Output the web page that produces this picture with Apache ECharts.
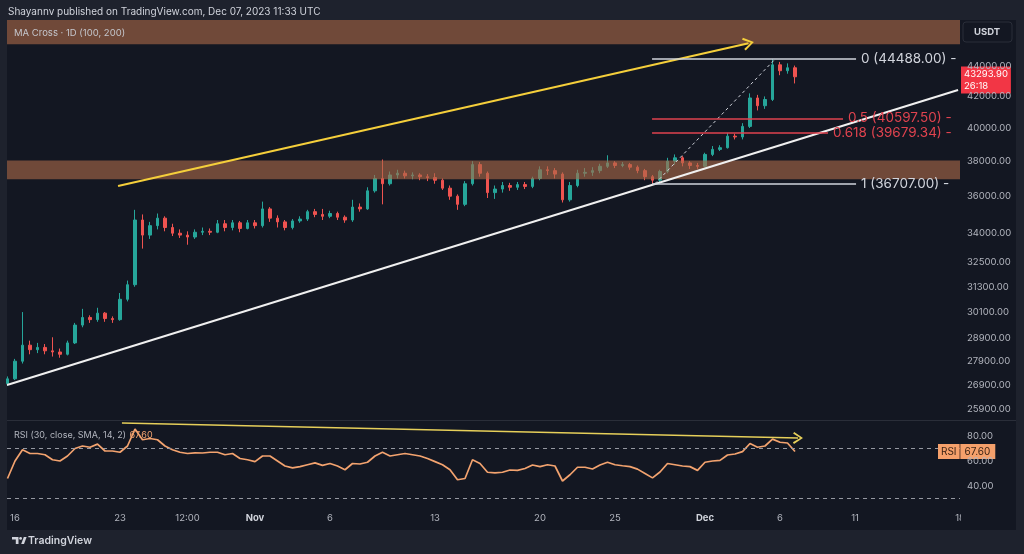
<!DOCTYPE html>
<html><head><meta charset="utf-8">
<script src="https://cdn.jsdelivr.net/npm/echarts@6/dist/echarts.min.js"></script>
<style>html,body{margin:0;padding:0;background:#1e222d;}#c{width:1024px;height:554px;}</style>
</head><body><div id="c"></div>
<script>
// Time is measured in days since 2023-10-16 00:00 UTC; 12h candles from 2023-10-15 12:00
const candleStartDay = -0.5;
const candleStepDays = 0.5;
// [open, close, low, high]
const ohlc = [
[26950,27150,26850,27250],[27150,27900,27100,28000],[27900,28600,27800,30100],[28600,28400,28200,28800],
[28400,28500,28250,28700],[28500,28350,28200,28650],[28350,28300,28100,28950],[28300,28200,28050,28450],
[28200,28700,28150,28800],[28700,29500,28650,29600],[29500,29850,29400,30250],[29850,29750,29600,29950],
[29750,30050,29650,30300],[30050,29800,29650,30100],[29800,29750,29600,29900],[29750,30700,29700,31000],
[30700,31400,30600,31600],[31400,34700,31300,35250],[34700,33900,33200,35000],[33900,34400,33700,34600],
[34400,34800,34200,35050],[34800,34300,34100,34900],[34300,34000,33850,34500],[34000,33900,33750,34200],
[33900,33800,33400,34100],[33800,34050,33700,34200],[34050,34100,33900,34300],[34100,34050,33900,34250],
[34050,34500,34000,34700],[34500,34300,34100,34700],[34300,34550,34150,34700],[34550,34250,34050,34650],
[34250,34550,34200,34700],[34550,34400,34250,34700],[34400,35300,34300,35700],[35300,34800,34600,35400],
[34800,34600,34300,34950],[34600,34300,34150,34700],[34300,34650,34200,34750],[34650,34750,34550,34900],
[34750,35150,34650,35250],[35150,35000,34850,35300],[35000,34900,34700,35300],[34900,35050,34800,35200],
[35050,34850,34700,35150],[34850,34700,34550,34950],[34700,35400,34600,35800],[35400,35300,35150,35600],
[35300,36300,35250,36500],[36300,37000,36200,37200],[37000,36700,35550,38100],[36700,37200,36600,37400],
[37200,37300,37000,37500],[37300,37150,37000,37450],[37150,37200,36950,37350],[37200,37100,36900,37300],
[37100,37050,36850,37250],[37050,36900,36700,37300],[36900,36450,36350,37000],[36450,36000,35800,36600],
[36000,35550,35250,36100],[35550,36700,35450,36850],[36700,37800,36600,38000],[37800,37300,37100,37950],
[37300,36200,35900,37400],[36200,36400,35850,36600],[36400,36600,36200,36800],[36600,36500,36300,36750],
[36500,36650,36350,36800],[36650,36550,36400,36800],[36550,37000,36450,37100],[37000,37500,36900,37700],
[37500,37450,37200,37700],[37450,37250,37000,37600],[37250,35800,35650,37350],[35800,36600,35700,36800],
[36600,37300,36500,37500],[37300,37350,37100,37600],[37350,37450,37150,37650],[37450,37700,37300,37850],
[37700,37900,37600,38350],[37900,37750,37600,38000],[37750,37800,37650,37950],[37800,37650,37500,37900],
[37650,37450,37300,37750],[37450,37100,36900,37550],[37100,36900,36707,37200],[36900,37400,36800,37500],
[37400,38000,37300,38200],[38000,38200,37800,38400],[38200,37900,37700,38300],[37900,37750,37550,38000],
[37750,37700,37550,37900],[37700,38400,37650,38500],[38400,38700,38300,38900],[38700,38800,38600,38950],
[38800,39500,38750,39700],[39500,39450,39300,39650],[39450,40100,39300,40300],[40100,41900,40000,42200],
[41900,41400,41100,42100],[41400,41800,41200,42000],[41800,44100,41700,44488],[44100,43700,43400,44300],
[43700,43900,43500,44200],[43900,43293.9,42850,44050]
];
const rsi = [
46,60,69,66,66,65,61,60,64,70, 72,71,73.5,68,68,67,72,85.6,77,78,
77,72,69,67,66,66.5,66.4,67,67,65, 66,62,61,59.5,64,64,60,56,54.5,55.5,
57,58.5,56.5,58,56,53,58,57.6,59,64, 67,64,65,66,65,64,62,59.5,57,53,
45,46,61,58,51,50.5,51,52.8,52.5,54, 56.8,55.5,57,56,44,49,55,55,53.6,56.8,
59,57,56.2,55.5,53.5,50,46.5,51.2,58,57, 56,55.5,52.5,59,60,60.5,64.8,65.6,67.5,74,
71,72,77.5,75,74.4,67.6
];
const priceTicks = [25900,26900,27900,28900,30100,31300,32500,34000,36000,38000,40000,42000,44000];
const rsiTicks = [40,60,80];
const dateTickDays = [0,7,11.5,16,21,28,35,40,46,51,56,63];
const dateTickLabels = ['16','23','12:00','Nov','6','13','20','25','Dec','6','11','18'];
const fibLabels = ['0 (44488.00) -','0.5 (40597.50) -','0.618 (39679.34) -','1 (36707.00) -'];
const fibPrices = [44488.00,40597.50,39679.34,36707.00];
const fibStartDay = 42.47;
const fibEndDays = [56.07,55.2,54.2,56.07];
const zones = [[45520,47263],[36950,38040]];
const trendLine = [[-0.53,26890],[62.87,42420]];
const yellowArrow = [[6.87,36570],[48.9,45600]];
const fibDiagonal = [[42.67,36707],[50.67,44488]];
const rsiArrow = [[7.13,90.4],[52.2,78.4]];
const rsiLevels = [70,30];
const lastPrice = 43293.90;
const countdown = '26:18';
const lastRsi = 67.60;

const X_MIN = -0.533, X_MAX = 63.0;
const P_MIN = 25477, P_MAX = 47263;
const R_MIN = 22.4, R_MAX = 92;
const L = Math.log;
const FONT = 'Inter, "Noto Sans", sans-serif';
const AX = '#b2b5be';
const BG = '#131722', FRAME = '#1e222d';
const UP = '#26a69a', DOWN = '#ef5350';
const FIBC = ['#d1d4dc','#e0434f','#e0434f','#d1d4dc'];
const CLEAR = 'rgba(0,0,0,0)';
const chevron = 'path://M6,0 L12,10 L10.4,11.2 L6,3.2 L1.6,11.2 L0,10 Z';

const candleData = ohlc.map((r,i)=>[candleStartDay+i*candleStepDays, L(r[0]), L(r[1]), L(r[2]), L(r[3])]);
const rsiData = rsi.map((v,i)=>[candleStartDay+i*candleStepDays, v]);
const pc = a => ({coord:[a[0], L(a[1])]});

const priceMarkLines = [
  [Object.assign(pc(trendLine[0]),{lineStyle:{color:'#f0f0f0',width:2,type:'solid'}}), pc(trendLine[1])],
  [Object.assign(pc(yellowArrow[0]),{lineStyle:{color:'#f5cf3b',width:2,type:'solid'}}),
   Object.assign(pc(yellowArrow[1]),{symbol:chevron,symbolSize:[13,11]})],
  [Object.assign(pc(fibDiagonal[0]),{lineStyle:{color:'#d1d4dc',width:1,type:[3,3]}}), pc(fibDiagonal[1])]
];
fibPrices.forEach((p,k)=>{
  priceMarkLines.push([
    {coord:[fibStartDay, L(p)], lineStyle:{color:FIBC[k],width:1.5,type:'solid'},
     label:{show:true,position:'end',distance:5,formatter:fibLabels[k],color:FIBC[k],fontSize:13.5,fontFamily:FONT}},
    {coord:[fibEndDays[k], L(p)]}
  ]);
});
priceMarkLines.push({yAxis:L(lastPrice), lineStyle:{color:CLEAR,width:1,type:'solid'},
  label:{show:true,position:'end',distance:1,offset:[0,6],formatter:lastPrice.toFixed(2)+'\n'+countdown,
    backgroundColor:'#f23645',color:'#ffffff',padding:[2,3,2,3],fontSize:9.5,lineHeight:11.5,fontFamily:FONT}});

const rsiMarkLines = rsiLevels.map(v=>({yAxis:v, lineStyle:{color:'#9598a1',width:1,type:[4,4]}}));
rsiMarkLines.push([
  {coord:rsiArrow[0], lineStyle:{color:'#e6cf5a',width:1.3,type:'solid'}},
  {coord:rsiArrow[1], symbol:chevron, symbolSize:[12,10]}
]);
rsiMarkLines.push({yAxis:lastRsi, lineStyle:{color:CLEAR,width:1,type:'solid'},
  label:{show:true,position:'end',distance:0,offset:[-22,0],formatter:'{a|RSI}{s|}{b|'+lastRsi.toFixed(2)+'}',
    rich:{a:{backgroundColor:'#f5a06b',color:'#3b2314',padding:[3,3,2,3],fontSize:10,fontFamily:FONT},
          s:{backgroundColor:'#c9784a',width:1,height:15,padding:0},
          b:{backgroundColor:'#f5a06b',color:'#3b2314',padding:[3,5,2,4],fontSize:10,fontFamily:FONT}}}});

const chart = echarts.init(document.getElementById('c'), null, {renderer:'canvas'});
chart.setOption({
  animation:false,
  backgroundColor:FRAME,
  textStyle:{fontFamily:FONT},
  grid:[
    {left:7, top:20, width:953, height:400},
    {left:7, top:421, width:953, height:87}
  ],
  xAxis:[
    {type:'value', gridIndex:0, min:X_MIN, max:X_MAX, show:false},
    {type:'value', gridIndex:1, min:X_MIN, max:X_MAX, axisLine:{show:false}, axisTick:{show:false}, splitLine:{show:false},
     axisLabel:{customValues:dateTickDays, margin:5, color:AX, fontSize:9.5, fontFamily:FONT,
       formatter:v=>{const k=dateTickDays.findIndex(d=>Math.abs(d-v)<1e-6); const s=dateTickLabels[k]; return /^[A-Z]/.test(s)?'{b|'+s+'}':s;},
       rich:{b:{fontWeight:'bold',color:'#d1d4dc',fontSize:9.5,fontFamily:FONT}}}}
  ],
  yAxis:[
    {type:'value', gridIndex:0, position:'right', min:L(P_MIN), max:L(P_MAX), z:10,
     axisLine:{show:false}, axisTick:{show:false}, splitLine:{show:false},
     axisLabel:{customValues:priceTicks.map(L), margin:7, color:AX, fontSize:9.5, fontFamily:FONT,
       formatter:v=>Math.exp(v).toFixed(2)}},
    {type:'value', gridIndex:1, position:'right', min:R_MIN, max:R_MAX, z:10,
     axisLine:{show:false}, axisTick:{show:false}, splitLine:{show:false},
     axisLabel:{customValues:rsiTicks, margin:7, color:AX, fontSize:9.5, fontFamily:FONT, formatter:v=>v.toFixed(2)}}
  ],
  series:[
    {type:'candlestick', xAxisIndex:0, yAxisIndex:0, data:candleData, encode:{x:0,y:[1,2,3,4]},
     barWidth:3, itemStyle:{color:UP,color0:DOWN,borderColor:UP,borderColor0:DOWN,borderWidth:1},
     markArea:{silent:true, z:3, itemStyle:{color:'rgba(169,105,71,0.62)'},
       data:zones.map(z=>[{yAxis:L(z[0])},{yAxis:L(z[1])}])},
     markLine:{silent:true, symbol:'none', animation:false, label:{show:false}, emphasis:{disabled:true},
       data:priceMarkLines}},
    {type:'line', xAxisIndex:1, yAxisIndex:1, data:rsiData, showSymbol:false, symbol:'none',
     lineStyle:{color:'#f3a36f', width:1.7}, itemStyle:{color:'#f3a36f'},
     markLine:{silent:true, symbol:'none', animation:false, label:{show:false}, emphasis:{disabled:true},
       data:rsiMarkLines}}
  ],
  graphic:[
    {type:'rect', z:-10, shape:{x:7,y:20,width:1009,height:510}, style:{fill:BG}},
    {type:'rect', z:-9, shape:{x:7,y:420,width:1009,height:1}, style:{fill:'#2a2e39'}},
    {type:'rect', z:50, shape:{x:961,y:509,width:55,height:21}, style:{fill:BG}},
    {type:'text', z:20, left:8, top:7, style:{text:'Shayannv published on TradingView.com, Dec 07, 2023 11:33 UTC', fill:'#d1d4dc', font:'10px '+FONT}},
    {type:'text', z:20, left:14, top:28, style:{text:'MA Cross · 1D (100, 200)', fill:'#c4c6cc', font:'9.5px '+FONT}},
    {type:'text', z:20, left:14, top:429, style:{rich:{t:{fill:'#b2b5be',font:'9px '+FONT},v:{fill:'#f3a36f',font:'9px '+FONT}},
      text:'{t|RSI (30, close, SMA, 14, 2)} {v|'+lastRsi.toFixed(2)+'}'}},
    {type:'rect', z:20, shape:{x:963,y:22,width:49,height:20,r:3}, style:{fill:BG, stroke:'#2a2e39', lineWidth:1}},
    {type:'text', z:21, x:987, y:32, style:{text:'USDT', fill:'#d1d4dc', font:'bold 9.5px '+FONT, align:'center', verticalAlign:'middle'}},
    {type:'polygon', z:20, shape:{points:[[12,537],[18.5,537],[18.5,544],[15.8,544],[15.8,539.6],[12,539.6]]}, style:{fill:'#d1d4dc'}},
    {type:'circle', z:20, shape:{cx:20.6,cy:538.4,r:1.4}, style:{fill:'#d1d4dc'}},
    {type:'polygon', z:20, shape:{points:[[21.2,544],[23.8,537],[26.6,537],[24,544]]}, style:{fill:'#d1d4dc'}},
    {type:'text', z:20, left:28, top:535, style:{text:'TradingView', fill:'#d1d4dc', font:'600 10.5px '+FONT}}
  ]
});
</script>
</body></html>
